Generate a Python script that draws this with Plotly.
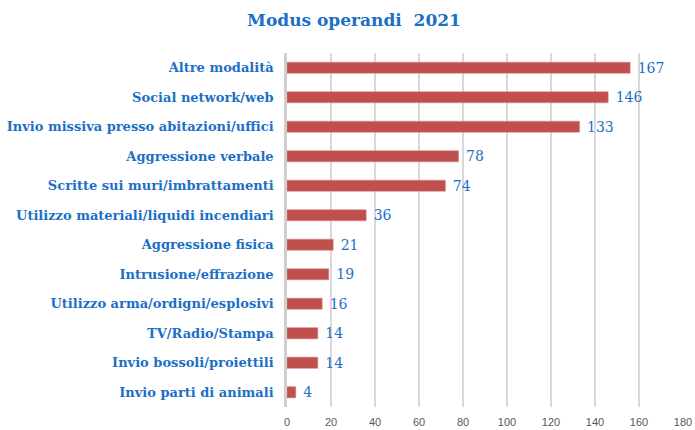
import plotly.graph_objects as go

# categories top -> bottom as in the picture
categories = [
    "Altre modalità",
    "Social network/web",
    "Invio missiva presso abitazioni/uffici",
    "Aggressione verbale",
    "Scritte sui muri/imbrattamenti",
    "Utilizzo materiali/liquidi incendiari",
    "Aggressione fisica",
    "Intrusione/effrazione",
    "Utilizzo arma/ordigni/esplosivi",
    "TV/Radio/Stampa",
    "Invio bossoli/proiettili",
    "Invio parti di animali",
]
# printed values
labels = [167, 146, 133, 78, 74, 36, 21, 19, 16, 14, 14, 4]
# bar lengths as drawn in the source (first bar is shorter than its label)
bar_lengths = [156, 146, 133, 78, 72, 36, 21, 19, 16, 14, 14, 4]
x_ticks = [0, 20, 40, 60, 80, 100, 120, 140, 160, 180]

BLUE = "#1b6fc6"
SERIF = "DejaVu Serif"

fig = go.Figure(go.Bar(
    x=bar_lengths[::-1],
    y=categories[::-1],
    orientation="h",
    marker=dict(color="#c0504d", line=dict(color="#d88a88", width=0.5)),
    text=[" " + str(v) for v in labels[::-1]],
    textposition="outside",
    cliponaxis=False,
    textfont=dict(family=SERIF, size=14, color=BLUE),
    hoverinfo="none",
))

fig.update_layout(
    width=695, height=430,
    title=dict(text="<b>Modus operandi  2021</b>", x=354 / 695, xanchor="center",
               y=0.953, yanchor="middle",
               font=dict(family=SERIF, size=17, color=BLUE)),
    paper_bgcolor="white",
    plot_bgcolor="white",
    margin=dict(l=287, r=12, t=53, b=23),
    bargap=0.62,
    showlegend=False,
    uniformtext=dict(minsize=14, mode="show"),
    xaxis=dict(
        range=[0, 180],
        tickvals=x_ticks,
        showgrid=True, gridcolor="#d9d9d9", gridwidth=1.5,
        zeroline=False, showline=False,
        tickfont=dict(family="Liberation Sans", size=11, color="#595959"),
        ticklabelstandoff=7,
        automargin=False,
        fixedrange=True,
    ),
    yaxis=dict(
        showline=True, linecolor="#cfcfcf", linewidth=2.5,
        showgrid=False,
        tickfont=dict(family=SERIF, size=13, color=BLUE, weight="bold"),
        ticklabelstandoff=8,
        automargin=False,
        fixedrange=True,
    ),
)

# drop the default 8px page margin so the figure fills the window exactly
fig.write_html("out.html", config={"displayModeBar": False},
               post_script="document.body.style.margin='0';")
